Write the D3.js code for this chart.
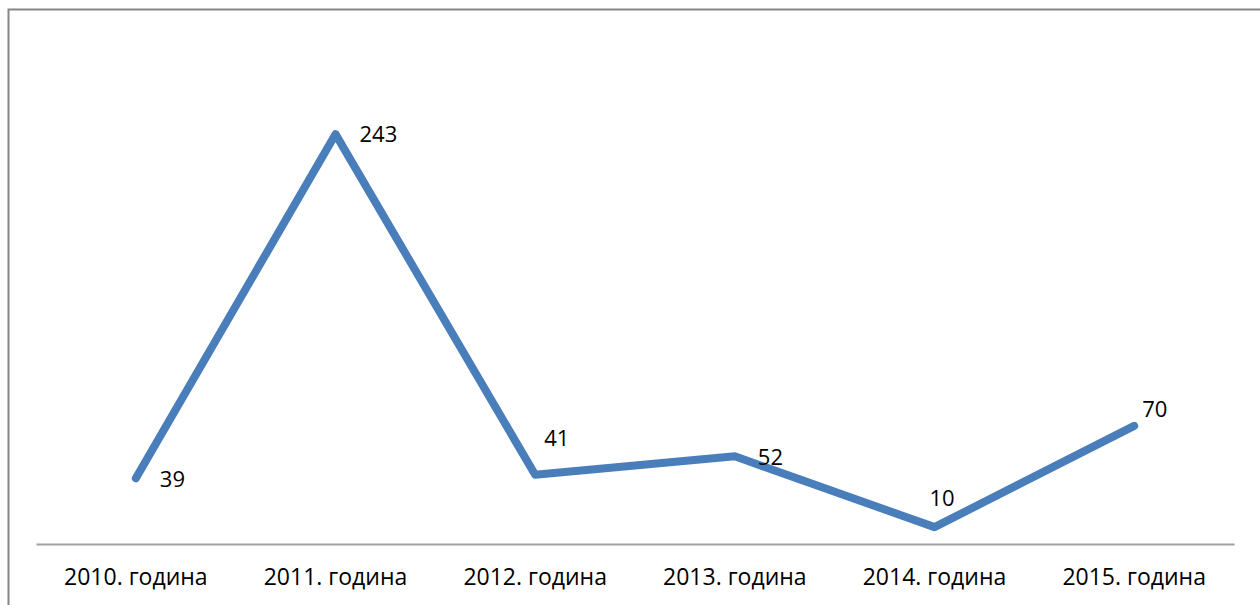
<!DOCTYPE html>
<html>
<head>
<meta charset="utf-8">
<script src="https://cdn.jsdelivr.net/npm/d3@7"></script>
<style>
  body { margin: 0; background: #fff; }
  text { font-family: "Open Sans", Lato, sans-serif; fill: #000; }
</style>
</head>
<body>
<div id="chart"></div>
<script>
// data
const years = ["2010. година", "2011. година", "2012. година", "2013. година", "2014. година", "2015. година"];
const counts = [39, 243, 41, 52, 10, 70];
// where each value label sits relative to its point [dx, dy]
const labelShift = [[24, 9], [24, 8], [9, -29], [23, 9], [-5, -21], [8, -9]];

const width = 1260, height = 605;
const margin = { top: 38, right: 26, bottom: 61, left: 36 };
const fontSize = 22;

const svg = d3.select("#chart").append("svg")
    .attr("width", width)
    .attr("height", height);

// outer chart frame (right and bottom run off the picture)
svg.append("rect")
    .attr("x", 8.5).attr("y", 9.5)
    .attr("width", 1262).attr("height", 610)
    .attr("fill", "none")
    .attr("stroke", "#868686")
    .attr("stroke-width", 2);

const x = d3.scaleBand()
    .domain(years)
    .range([margin.left, width - margin.right]);

const y = d3.scaleLinear()
    .domain([0, 300])
    .range([height - margin.bottom, margin.top]);

// category axis
const xAxis = svg.append("g")
    .attr("transform", `translate(0, ${y(0)})`)
    .call(d3.axisBottom(x).tickSize(0).tickPadding(25));
xAxis.select(".domain").attr("stroke", "#a0a0a0").attr("stroke-width", 2);
xAxis.selectAll("text")
    .style("font-family", "'Open Sans', Lato, sans-serif")
    .style("font-size", "23px")
    .attr("fill", "#000");

const cx = d => x(d) + x.bandwidth() / 2;

const line = d3.line()
    .x((d, i) => cx(years[i]))
    .y(d => y(d));

svg.append("path")
    .datum(counts)
    .attr("fill", "none")
    .attr("stroke", "#4a7ebb")
    .attr("stroke-width", 8)
    .attr("stroke-linecap", "round")
    .attr("stroke-linejoin", "round")
    .attr("d", line);

// value labels
svg.selectAll(".val")
    .data(counts)
    .enter().append("text")
    .attr("class", "val")
    .attr("x", (d, i) => cx(years[i]) + labelShift[i][0])
    .attr("y", (d, i) => y(d) + labelShift[i][1])
    .style("font-size", fontSize + "px")
    .text(d => d);
</script>
</body>
</html>
